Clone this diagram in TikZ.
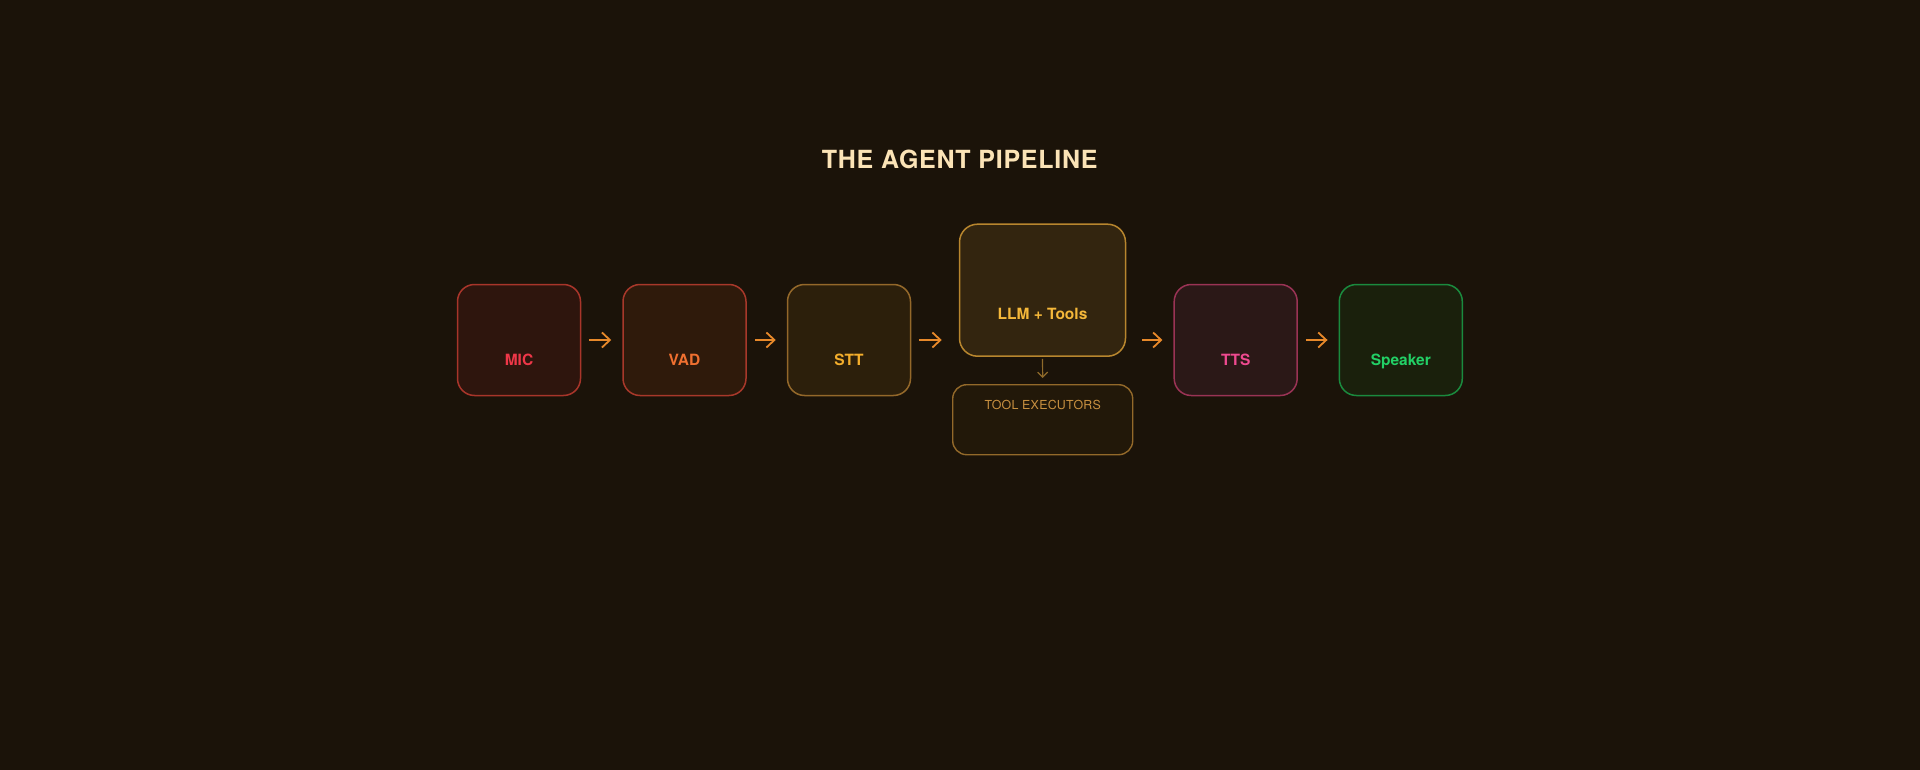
\documentclass[tikz,border=0pt]{standalone}
\usepackage{fontspec}
\setmainfont{TeX Gyre Heros}
\usetikzlibrary{arrows.meta}
\pgfdeclarelayer{glowlayer}
\pgfsetlayers{glowlayer,main}
\definecolor{bgc}{HTML}{1B1309}
\definecolor{titlec}{HTML}{FBE3B6}
\definecolor{arrc}{HTML}{E8892A}
\definecolor{darrc}{HTML}{8F6A2A}
\definecolor{micF}{HTML}{2E150D}\definecolor{micD}{HTML}{A8352A}\definecolor{micT}{HTML}{EE3748}
\definecolor{vadF}{HTML}{2F1A0B}\definecolor{vadD}{HTML}{A8382A}\definecolor{vadT}{HTML}{F07030}
\definecolor{sttF}{HTML}{2C1F0B}\definecolor{sttD}{HTML}{94682A}\definecolor{sttT}{HTML}{F4AE2C}
\definecolor{llmF}{HTML}{33250F}\definecolor{llmD}{HTML}{B8862E}\definecolor{llmT}{HTML}{F5B83A}
\definecolor{toolF}{HTML}{221809}\definecolor{toolD}{HTML}{93692A}\definecolor{toolT}{HTML}{C89040}
\definecolor{ttsF}{HTML}{2B1817}\definecolor{ttsD}{HTML}{9A3355}\definecolor{ttsT}{HTML}{EE4A90}
\definecolor{spkF}{HTML}{1A200C}\definecolor{spkD}{HTML}{1A8A3E}\definecolor{spkT}{HTML}{22D066}
\definecolor{glowc}{HTML}{C08030}
\tikzset{
  stagebox/.style={draw, line width=1.5pt, rounded corners=17pt, minimum width=123pt, minimum height=111pt, inner sep=0pt},
  lbl/.style={anchor=base, inner sep=0pt, font=\fontsize{15.5}{18}\selectfont\bfseries},
  arr/.style={draw=arrc, line width=1.8pt, -{Straight Barb[length=8pt,width=15pt,line width=1.8pt]}},
  darr/.style={draw=darrc, line width=1.2pt, -{Straight Barb[length=5pt,width=10pt,line width=1.2pt]}}
}
\begin{document}
\begin{tikzpicture}[x=1pt,y=-1pt]
\fill[bgc] (0,0) rectangle (1920,770);
\useasboundingbox (0,0) rectangle (1920,770);

\node[anchor=base, inner sep=0pt, text=titlec, font=\fontsize{25}{30}\selectfont\bfseries\addfontfeatures{LetterSpace=3}] (title) at (959.7,168.3) {THE AGENT PIPELINE};

\node[stagebox, draw=micD, fill=micF] (mic) at (519,340) {};
\node[stagebox, draw=vadD, fill=vadF] (vad) at (684.5,340) {};
\node[stagebox, draw=sttD, fill=sttF] (stt) at (849,340) {};
\node[stagebox, draw=llmD, fill=llmF, minimum width=166pt, minimum height=132pt, rounded corners=18pt] (llm) at (1042.5,290.2) {};
\node[stagebox, draw=toolD, fill=toolF, line width=1.4pt, minimum width=180pt, minimum height=70pt, rounded corners=14pt] (tool) at (1042.7,419.7) {};
\node[stagebox, draw=ttsD, fill=ttsF] (tts) at (1235.7,340) {};
\node[stagebox, draw=spkD, fill=spkF] (spk) at (1400.8,340) {};

\begin{pgfonlayer}{glowlayer}
\foreach \r in {2,4,...,28}{
  \fill[glowc, opacity=0.02, rounded corners=18pt+\r pt]
    ([shift={(-\r,-\r)}]llm.north west) rectangle ([shift={(\r,\r)}]llm.south east);
}
\end{pgfonlayer}

\node[lbl, text=micT] (micl) at (519,365.7) {MIC};
\node[lbl, text=vadT] (vadl) at (684.5,365.7) {VAD};
\node[lbl, text=sttT] (sttl) at (849,365.7) {STT};
\node[lbl, text=llmT] (llml) at (1042.5,319) {LLM + Tools};
\node[lbl, text=ttsT] (ttsl) at (1235.7,365.7) {TTS};
\node[lbl, text=spkT] (spkl) at (1400.8,365.7) {Speaker};
\node[anchor=base, inner sep=0pt, text=toolT, font=\fontsize{12.4}{15}\selectfont\addfontfeatures{LetterSpace=2}] (tooll) at (1042.7,409) {TOOL EXECUTORS};

\draw[arr] ([xshift=8pt]mic.east) -- ([xshift=-11pt]vad.west);
\draw[arr] ([xshift=8pt]vad.east) -- ([xshift=-11pt]stt.west);
\draw[arr] ([xshift=8pt]stt.east) -- ([xshift=-17pt]stt.east -| llm.west);
\draw[arr] ([xshift=16pt]tts.west -| llm.east) -- ([xshift=-11pt]tts.west);
\draw[arr] ([xshift=8pt]tts.east) -- ([xshift=-11pt]spk.west);
\draw[darr] ([yshift=-2pt]llm.south) -- ([yshift=6pt]tool.north);
\end{tikzpicture}
\end{document}
